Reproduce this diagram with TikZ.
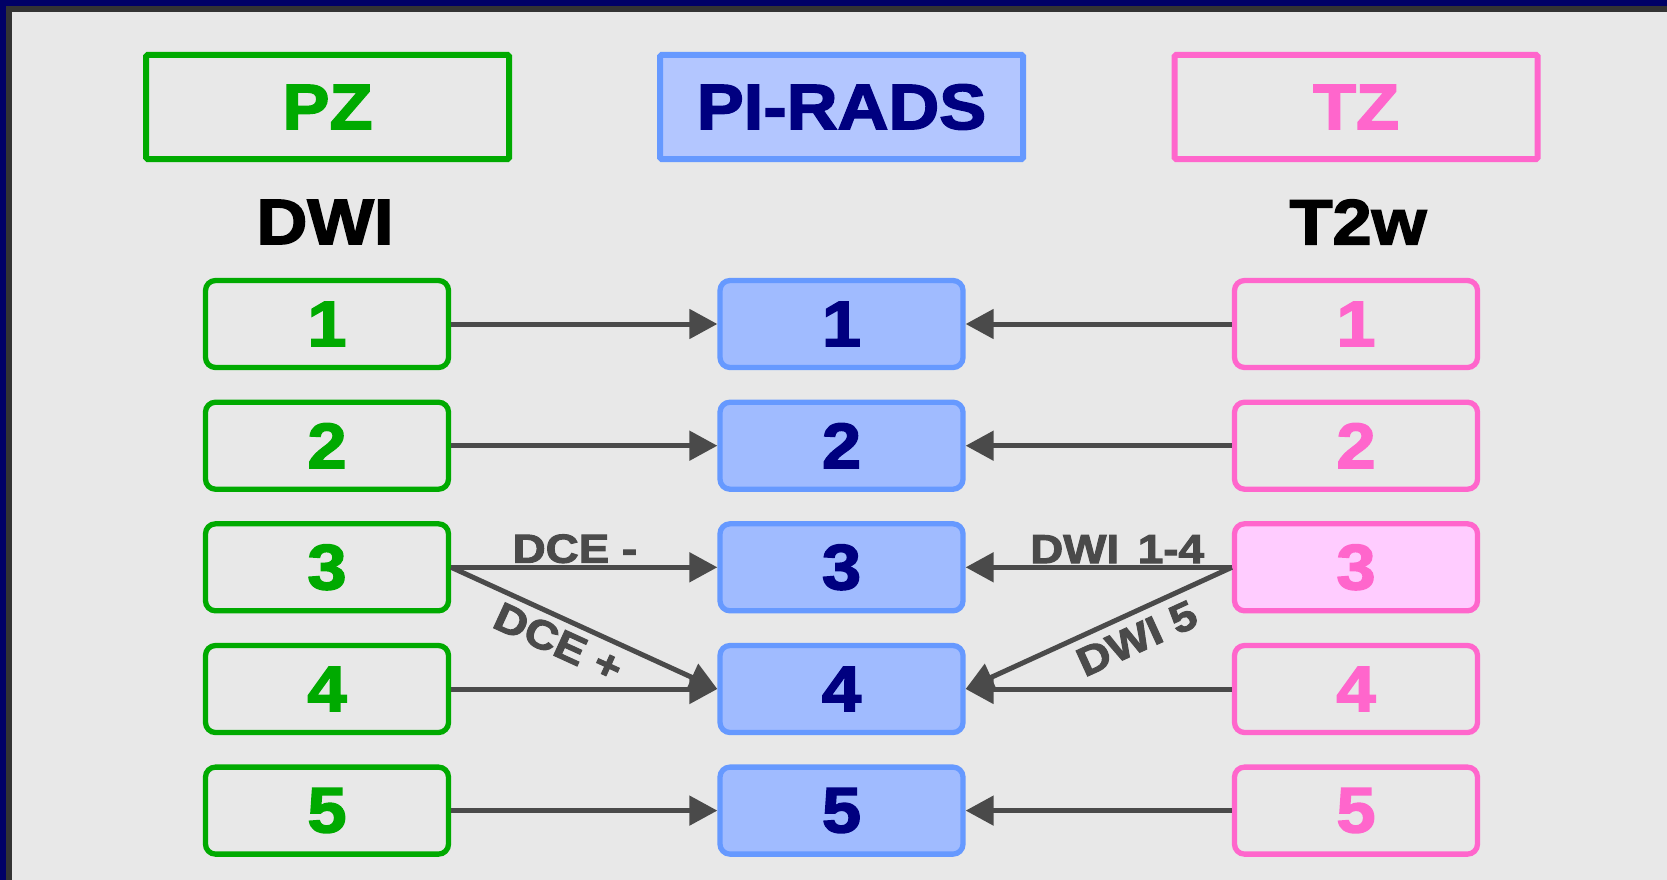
\documentclass[tikz,border=0pt]{standalone}
\usepackage{fontspec}
\setmainfont{Liberation Sans}
\newfontfamily\hv{Liberation Sans}[UprightFont={* Bold}, FakeBold=2.5, FakeStretch=1.1]
\newfontfamily\hvl{Liberation Sans}[UprightFont={* Bold}, FakeBold=2.5, FakeStretch=1.13]
\usetikzlibrary{arrows.meta}
\definecolor{bgc}{HTML}{E8E8E8}
\definecolor{navyb}{HTML}{000066}
\definecolor{dgray}{HTML}{333333}
\definecolor{pzg}{HTML}{00AA00}
\definecolor{tzp}{HTML}{FF66CC}
\definecolor{tzfill}{HTML}{FFCCFF}
\definecolor{bluer}{HTML}{6699FF}
\definecolor{hdrfill}{HTML}{B3C6FF}
\definecolor{midfill}{HTML}{A0BBFF}
\definecolor{navyt}{HTML}{000080}
\definecolor{arrgray}{HTML}{4A4A4A}
\newcommand\myBig{\hv\fontsize{64}{70}\selectfont}
\newcommand\myLbl{\hvl\fontsize{40.5}{44}\selectfont}
\begin{document}
\begin{tikzpicture}[x=1pt,y=-1pt,
  hdr/.style={draw, line width=6pt, minimum width=363pt, minimum height=104pt,
    inner sep=0pt, rounded corners=1.5pt, font=\myBig},
  score/.style={draw, line width=5.3pt, minimum width=243pt, minimum height=87pt,
    inner sep=0pt, rounded corners=10pt, font=\myBig},
  pzbox/.style={score, draw=pzg, text=pzg},
  midbox/.style={score, draw=bluer, fill=midfill, text=navyt},
  tzbox/.style={score, draw=tzp, text=tzp},
  arr/.style={draw=arrgray, line width=5pt, -{Triangle[length=28pt,width=29pt]}},
  lbl/.style={text=arrgray, font=\myLbl, inner sep=4pt},
  coltitle/.style={font=\myBig, text=black, inner sep=0pt}
]
\useasboundingbox (0,0) rectangle (1667,880);
\fill[bgc] (0,0) rectangle (1667,880);
\fill[navyb] (0,0) rectangle (1667,6);
\fill[navyb] (0,0) rectangle (6,880);
\fill[dgray] (6,6) rectangle (1667,12);
\fill[dgray] (6,6) rectangle (12,880);

% headers
\node[hdr, draw=pzg, text=pzg] (hpz) at (327.5,107) {PZ};
\node[hdr, draw=bluer, fill=hdrfill, text=navyt] (hpi) at (841.5,107) {PI-RADS};
\node[hdr, draw=tzp, text=tzp] (htz) at (1356,107) {TZ};

\node[coltitle] (dwi) at (325,222) {DWI};
\node[coltitle] (t2w) at (1358,222) {T2w};

% score boxes
\foreach \i/\y in {1/324,2/445.7,3/567.3,4/689,5/810.6}{
  \node[pzbox] (l\i) at (327,\y) {\i};
  \node[midbox] (m\i) at (841.5,\y) {\i};
}
\foreach \i/\y in {1/324,2/445.7,4/689,5/810.6}{
  \node[tzbox] (r\i) at (1356,\y) {\i};
}
\node[tzbox, fill=tzfill] (r3) at (1356,567.3) {3};

% arrows
\foreach \i in {1,2,3,4,5}{
  \draw[arr] (l\i.east) -- (m\i.west);
  \draw[arr] (r\i.west) -- (m\i.east);
}
\draw[arr] (l3.east) -- (m4.west);
\draw[arr] (r3.west) -- (m4.east);

% labels
\path (l3.east) -- (m3.west) node[lbl, pos=0.465, above] (ldcem) {DCE -};
\path (m3.east) -- (r3.west) node[lbl, pos=0.569, above] (ldwi14) {DWI\hspace{6pt} 1-4};
\path (l3.east) -- (m4.west) node[lbl, pos=0.44, sloped, below, inner sep=9pt] (ldcep) {DCE +};
\path (m4.east) -- (r3.west) node[lbl, pos=0.604, sloped, below, inner sep=11pt] (ldwi5) {DWI 5};
\end{tikzpicture}
\end{document}
